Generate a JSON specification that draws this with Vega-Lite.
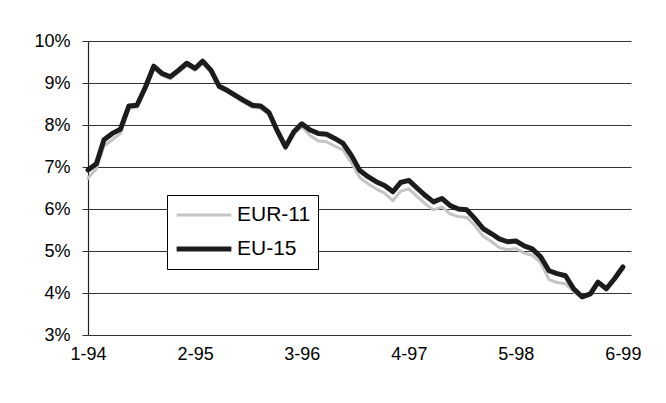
{
  "$schema": "https://vega.github.io/schema/vega-lite/v6.json",
  "width": 543,
  "height": 294,
  "autosize": "none",
  "padding": {"left": 88, "top": 41, "right": 35, "bottom": 68},
  "background": "white",
  "config": {
    "font": "Liberation Sans",
    "view": {"stroke": null},
    "axis": {"labelFont": "Liberation Sans", "labelColor": "black", "labelFontSize": 18, "titleFontSize": 0},
    "legend": {
      "title": null,
      "orient": "none",
      "legendX": 79,
      "legendY": 154,
      "symbolType": "stroke",
      "symbolSize": 3000,
      "clipHeight": 26,
      "labelFontSize": 21,
      "labelFont": "Liberation Sans",
      "labelColor": "black",
      "labelOffset": 3,
      "rowPadding": 8,
      "padding": 7,
      "strokeColor": "black",
      "fillColor": "white",
      "symbolOpacity": 1
    }
  },
  "datasets": {
    "rates": [
      {"month": "1994-01-01", "EU15": 6.93, "EUR11": 6.73},
      {"month": "1994-02-01", "EU15": 7.08, "EUR11": 6.96},
      {"month": "1994-03-01", "EU15": 7.65, "EUR11": 7.5},
      {"month": "1994-04-01", "EU15": 7.8, "EUR11": 7.65},
      {"month": "1994-05-01", "EU15": 7.9, "EUR11": 7.8},
      {"month": "1994-06-01", "EU15": 8.45, "EUR11": 8.4},
      {"month": "1994-07-01", "EU15": 8.47, "EUR11": 8.42},
      {"month": "1994-08-01", "EU15": 8.9, "EUR11": 8.85},
      {"month": "1994-09-01", "EU15": 9.4, "EUR11": 9.35},
      {"month": "1994-10-01", "EU15": 9.23, "EUR11": 9.18},
      {"month": "1994-11-01", "EU15": 9.15, "EUR11": 9.1},
      {"month": "1994-12-01", "EU15": 9.3, "EUR11": 9.25},
      {"month": "1995-01-01", "EU15": 9.47, "EUR11": 9.42},
      {"month": "1995-02-01", "EU15": 9.35, "EUR11": 9.3},
      {"month": "1995-03-01", "EU15": 9.52, "EUR11": 9.47},
      {"month": "1995-04-01", "EU15": 9.3, "EUR11": 9.25},
      {"month": "1995-05-01", "EU15": 8.92, "EUR11": 8.88},
      {"month": "1995-06-01", "EU15": 8.82, "EUR11": 8.78},
      {"month": "1995-07-01", "EU15": 8.7, "EUR11": 8.66},
      {"month": "1995-08-01", "EU15": 8.58, "EUR11": 8.53},
      {"month": "1995-09-01", "EU15": 8.47, "EUR11": 8.42},
      {"month": "1995-10-01", "EU15": 8.45, "EUR11": 8.4},
      {"month": "1995-11-01", "EU15": 8.3, "EUR11": 8.25},
      {"month": "1995-12-01", "EU15": 7.87, "EUR11": 7.82},
      {"month": "1996-01-01", "EU15": 7.48, "EUR11": 7.43},
      {"month": "1996-02-01", "EU15": 7.84, "EUR11": 7.78},
      {"month": "1996-03-01", "EU15": 8.03, "EUR11": 7.96},
      {"month": "1996-04-01", "EU15": 7.88, "EUR11": 7.75},
      {"month": "1996-05-01", "EU15": 7.8, "EUR11": 7.62},
      {"month": "1996-06-01", "EU15": 7.78, "EUR11": 7.6},
      {"month": "1996-07-01", "EU15": 7.68, "EUR11": 7.5},
      {"month": "1996-08-01", "EU15": 7.56, "EUR11": 7.4},
      {"month": "1996-09-01", "EU15": 7.27, "EUR11": 7.1},
      {"month": "1996-10-01", "EU15": 6.92, "EUR11": 6.75},
      {"month": "1996-11-01", "EU15": 6.77, "EUR11": 6.6},
      {"month": "1996-12-01", "EU15": 6.65, "EUR11": 6.48},
      {"month": "1997-01-01", "EU15": 6.56, "EUR11": 6.38},
      {"month": "1997-02-01", "EU15": 6.41, "EUR11": 6.2},
      {"month": "1997-03-01", "EU15": 6.63, "EUR11": 6.42},
      {"month": "1997-04-01", "EU15": 6.68, "EUR11": 6.48},
      {"month": "1997-05-01", "EU15": 6.5, "EUR11": 6.3},
      {"month": "1997-06-01", "EU15": 6.32, "EUR11": 6.12},
      {"month": "1997-07-01", "EU15": 6.17, "EUR11": 5.98},
      {"month": "1997-08-01", "EU15": 6.25, "EUR11": 6.05},
      {"month": "1997-09-01", "EU15": 6.08, "EUR11": 5.88},
      {"month": "1997-10-01", "EU15": 6.0, "EUR11": 5.82},
      {"month": "1997-11-01", "EU15": 5.98, "EUR11": 5.8},
      {"month": "1997-12-01", "EU15": 5.77, "EUR11": 5.6},
      {"month": "1998-01-01", "EU15": 5.53, "EUR11": 5.35},
      {"month": "1998-02-01", "EU15": 5.41, "EUR11": 5.22},
      {"month": "1998-03-01", "EU15": 5.29, "EUR11": 5.08},
      {"month": "1998-04-01", "EU15": 5.22, "EUR11": 5.03},
      {"month": "1998-05-01", "EU15": 5.24, "EUR11": 5.06},
      {"month": "1998-06-01", "EU15": 5.12, "EUR11": 4.95},
      {"month": "1998-07-01", "EU15": 5.05, "EUR11": 4.9},
      {"month": "1998-08-01", "EU15": 4.86, "EUR11": 4.72},
      {"month": "1998-09-01", "EU15": 4.53, "EUR11": 4.32},
      {"month": "1998-10-01", "EU15": 4.46, "EUR11": 4.25},
      {"month": "1998-11-01", "EU15": 4.41, "EUR11": 4.22},
      {"month": "1998-12-01", "EU15": 4.1, "EUR11": 4.03},
      {"month": "1999-01-01", "EU15": 3.91, "EUR11": 3.88},
      {"month": "1999-02-01", "EU15": 3.98, "EUR11": 3.96},
      {"month": "1999-03-01", "EU15": 4.26, "EUR11": 4.24},
      {"month": "1999-04-01", "EU15": 4.1, "EUR11": 4.08},
      {"month": "1999-05-01", "EU15": 4.34, "EUR11": 4.32},
      {"month": "1999-06-01", "EU15": 4.62, "EUR11": 4.6}
    ]
  },
  "data": {"name": "rates"},
  "transform": [
    {"fold": ["EUR11", "EU15"], "as": ["key", "rate"]},
    {"calculate": "datum.key === 'EUR11' ? 'EUR-11' : 'EU-15'", "as": "series"}
  ],
  "mark": {"type": "line", "strokeJoin": "round", "strokeCap": "round", "clip": false},
  "encoding": {
    "x": {
      "field": "month",
      "type": "temporal",
      "timeUnit": "utcyearmonth",
      "scale": {"domain": [{"year": 1994, "month": 1, "date": 1, "utc": true}, {"year": 1999, "month": 7, "date": 1, "utc": true}]},
      "axis": {
        "title": null,
        "values": [
          {"year": 1994, "month": 1, "date": 1, "utc": true},
          {"year": 1995, "month": 2, "date": 1, "utc": true},
          {"year": 1996, "month": 3, "date": 1, "utc": true},
          {"year": 1997, "month": 4, "date": 1, "utc": true},
          {"year": 1998, "month": 5, "date": 1, "utc": true},
          {"year": 1999, "month": 6, "date": 1, "utc": true}
        ],
        "format": "%-m-%y",
        "grid": false,
        "ticks": false,
        "domain": false,
        "labelPadding": 10,
        "labelFlush": false,
        "labelOverlap": false
      }
    },
    "y": {
      "field": "rate",
      "type": "quantitative",
      "scale": {"domain": [3, 10], "nice": false, "zero": false},
      "axis": {
        "title": null,
        "values": [3, 4, 5, 6, 7, 8, 9, 10],
        "labelExpr": "datum.value + '%'",
        "grid": true,
        "gridColor": "#333333",
        "gridWidth": 1,
        "gridOpacity": 1,
        "domain": true,
        "domainColor": "#222222",
        "domainWidth": 1.2,
        "ticks": true,
        "tickSize": 6,
        "tickColor": "#333333",
        "labelPadding": 12
      }
    },
    "color": {
      "field": "series",
      "type": "nominal",
      "scale": {"domain": ["EUR-11", "EU-15"], "range": ["#c4c4c4", "#1c1c1c"]}
    },
    "strokeWidth": {
      "field": "series",
      "type": "nominal",
      "scale": {"domain": ["EUR-11", "EU-15"], "range": [3, 5]}
    },
    "order": {"field": "key", "sort": "descending"}
  }
}
